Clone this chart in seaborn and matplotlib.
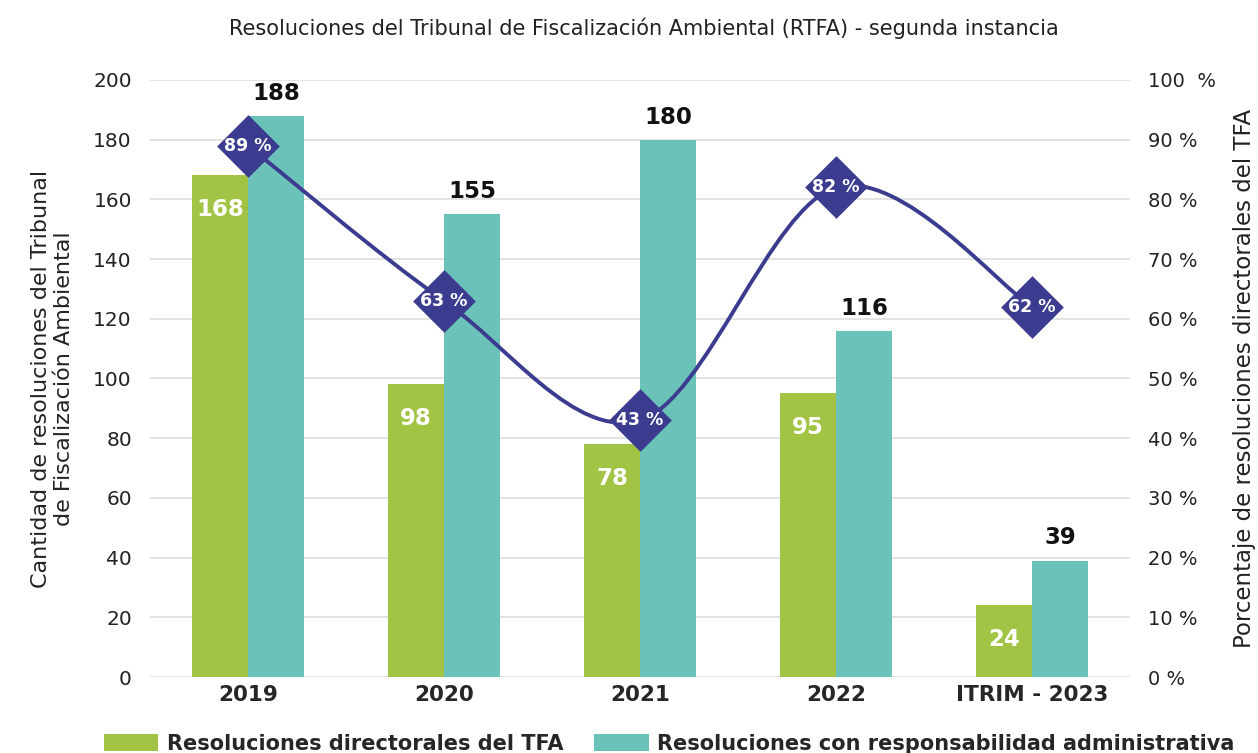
import numpy as np
import pandas as pd
import matplotlib
matplotlib.use("Agg")
import matplotlib.pyplot as plt
import seaborn as sns
from matplotlib.path import Path
from matplotlib.patches import PathPatch, Patch

categories = ["2019", "2020", "2021", "2022", "ITRIM - 2023"]
directorales = [168, 98, 78, 95, 24]
responsabilidad = [188, 155, 180, 116, 39]
porcentaje = [89, 63, 43, 82, 62]
series_names = ["Resoluciones directorales del TFA",
                "Resoluciones con responsabilidad administrativa"]
left_ticks = [0, 20, 40, 60, 80, 100, 120, 140, 160, 180, 200]
right_ticks = [0, 10, 20, 30, 40, 50, 60, 70, 80, 90, 100]
right_tick_labels = ["0 %", "10 %", "20 %", "30 %", "40 %", "50 %",
                     "60 %", "70 %", "80 %", "90 %", "100  %"]

GREEN = "#A2C444"
TEAL = "#6BC2B8"
NAVY = "#3B3B8F"

sns.set_theme(style="white")
plt.rcParams["font.family"] = ["DejaVu Sans"]

df = pd.DataFrame({
    "cat": categories * 2,
    "val": directorales + responsabilidad,
    "serie": [series_names[0]] * len(categories) + [series_names[1]] * len(categories),
})

fig = plt.figure(figsize=(12.58, 7.53), dpi=100)
ax = fig.add_axes([0.1192, 0.1009, 0.7791, 0.7929])

sns.barplot(data=df, x="cat", y="val", hue="serie", order=categories,
            hue_order=series_names, palette=[GREEN, TEAL], width=0.57,
            saturation=1, ax=ax, legend=False, linewidth=0)

ax.set_xlim(-0.5, len(categories) - 0.5)
ax.set_ylim(0, 200)
ax.set_yticks(left_ticks)
ax.yaxis.grid(True, color="#dedede", linewidth=1.2)
ax.set_axisbelow(True)
for s in ax.spines.values():
    s.set_visible(False)
ax.tick_params(axis="y", labelsize=14.5, length=0, pad=13, labelcolor="#222222")
ax.tick_params(axis="x", length=0, pad=6)
for lbl in ax.get_xticklabels():
    lbl.set_fontweight("bold")
    lbl.set_fontsize(15.5)
ax.set_xlabel("")
ax.set_ylabel("Cantidad de resoluciones del Tribunal\nde Fiscalización Ambiental",
              fontsize=16, color="#222222", labelpad=14, linespacing=1.2)

ax.bar_label(ax.containers[0], padding=-33, color="white", fontsize=16.5,
             fontweight="bold")
ax.bar_label(ax.containers[1], padding=8, color="#111111", fontsize=16.5,
             fontweight="bold")

ax2 = ax.twinx()
ax2.set_ylim(0, 100)
ax2.set_yticks(right_ticks)
ax2.set_yticklabels(right_tick_labels)
ax2.tick_params(axis="y", labelsize=14, length=0, pad=13, labelcolor="#222222")
for s in ax2.spines.values():
    s.set_visible(False)
ax2.set_ylabel("Porcentaje de resoluciones directorales del TFA", fontsize=16.5,
               color="#222222", labelpad=12)

# smooth line (Catmull-Rom as cubic Bezier)
xs = np.arange(len(porcentaje), dtype=float)
ys = np.array(porcentaje, dtype=float)
pts = np.column_stack([xs, ys])
verts = [tuple(pts[0])]
codes = [Path.MOVETO]
n = len(pts)
for i in range(n - 1):
    p0 = pts[max(i - 1, 0)]
    p1 = pts[i]
    p2 = pts[i + 1]
    p3 = pts[min(i + 2, n - 1)]
    c1 = p1 + (p2 - p0) / 6.0
    c2 = p2 - (p3 - p1) / 6.0
    verts += [tuple(c1), tuple(c2), tuple(p2)]
    codes += [Path.CURVE4] * 3
ax2.add_patch(PathPatch(Path(verts, codes), facecolor="none", edgecolor=NAVY,
                        linewidth=2.8, zorder=3))

pdf = pd.DataFrame({"x": xs, "y": ys})
sns.scatterplot(data=pdf, x="x", y="y", marker="D", s=1020, color=NAVY,
                edgecolor=NAVY, linewidth=0, ax=ax2, zorder=4, legend=False)
for x, y in zip(xs, ys):
    ax2.text(x, y, f"{int(y)} %", ha="center", va="center", color="white",
             fontsize=12.5, fontweight="bold", zorder=5)
ax2.set_xlabel("")
ax2.set_xlim(-0.5, len(categories) - 0.5)

fig.text(0.512, 0.962, "Resoluciones del Tribunal de Fiscalización Ambiental (RTFA) - segunda instancia",
         ha="center", va="center", fontsize=15, color="#222222")

handles = [Patch(facecolor=GREEN, edgecolor="none"), Patch(facecolor=TEAL, edgecolor="none")]
leg = fig.legend(handles, series_names, loc="center", bbox_to_anchor=(0.532, 0.012),
                 ncol=2, frameon=False, handlelength=2.6,
                 handleheight=0.9, columnspacing=1.5, handletextpad=0.4,
                 prop={"weight": "bold", "size": 15})

fig.savefig("out.png", dpi=100)
